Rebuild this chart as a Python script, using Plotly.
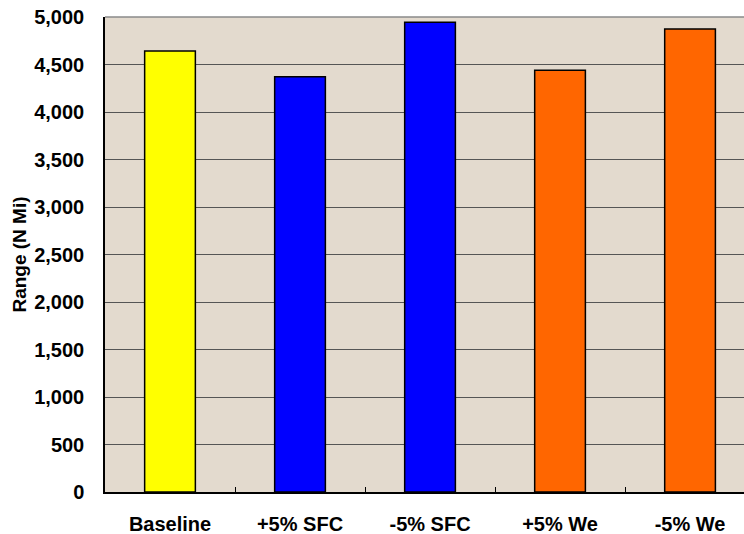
import plotly.graph_objects as go

# Range sensitivity to SFC and empty-weight changes
cases = ["Baseline", "+5% SFC", "-5% SFC", "+5% We", "-5% We"]
range_nmi = [4642, 4372, 4944, 4439, 4874]
bar_colors = ["#FFFF00", "#0000FF", "#0000FF", "#FF6600", "#FF6600"]

y_ticks = [0, 500, 1000, 1500, 2000, 2500, 3000, 3500, 4000, 4500, 5000]

font_family = "Liberation Sans, Arial, sans-serif"

fig = go.Figure(
    go.Bar(
        x=cases,
        y=range_nmi,
        marker=dict(color=bar_colors, line=dict(color="#000000", width=1.5)),
        width=0.39,
    )
)

fig.update_layout(
    width=744,
    height=534,
    margin=dict(l=105, r=0, t=17, b=42),
    paper_bgcolor="#FFFFFF",
    plot_bgcolor="#E3DACE",
    showlegend=False,
    font=dict(family=font_family, color="#000000"),
    shapes=[
        dict(type="line", xref="paper", yref="paper", x0=0, x1=1, y0=1, y1=1,
             line=dict(color="#8A8A8A", width=1.5), layer="above"),
    ],
)

fig.update_xaxes(
    type="category",
    range=[-0.5, 4.415],
    showline=True,
    linecolor="#000000",
    linewidth=1.5,
    ticks="inside",
    tickson="boundaries",
    ticklen=5,
    tickwidth=1.2,
    tickcolor="#000000",
    showgrid=False,
    tickfont=dict(family=font_family, size=20, color="#000000", weight="bold"),
    ticklabelstandoff=13,
)

fig.update_yaxes(
    range=[0, 5000],
    tickvals=y_ticks,
    tickformat=",d",
    showline=True,
    linecolor="#000000",
    linewidth=1.5,
    showgrid=True,
    gridcolor="#555555",
    gridwidth=1.3,
    zeroline=False,
    ticks="",
    ticklabelstandoff=15,
    tickfont=dict(family=font_family, size=20, color="#000000", weight="bold"),
    title=dict(text="Range (N Mi)", standoff=3,
               font=dict(family=font_family, size=19, color="#000000", weight="bold")),
)

fig.write_html("out.html")
